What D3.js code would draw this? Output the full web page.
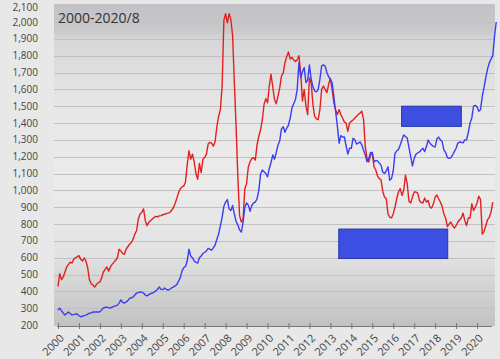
<!DOCTYPE html>
<html lang="en">
<head>
  <meta charset="UTF-8" />
  <title>2000-2020/8</title>
  <script src="https://d3js.org/d3.v7.min.js"></script>
  <style>
    html, body { margin: 0; padding: 0; background: #e8e8e8; }
    body { width: 500px; height: 359px; overflow: hidden; font-family: "Open Sans", sans-serif; }
    #chart { display: block; }
    .grid line { stroke: #c4bfc1; stroke-width: 1px; }
    .ylab text { fill: #444; font-size: 10px; }
    .xlab text { fill: #444; font-size: 11px; }
    .xaxis line, .xaxis path { stroke: #777; }
    .line { fill: none; stroke-width: 1.4px; stroke-linejoin: round; }
  </style>
</head>
<body>
  <svg id="chart" width="500" height="359"></svg>
  <script>
    // monthly readings, one row per year (red = platinum, blue = gold)
    const red = [
      430, 505, 470, 485, 515, 545, 560, 574, 568, 590, 600, 605,
      612, 590, 580, 598, 580, 540, 470, 445, 438, 425, 440, 452,
      455, 480, 515, 530, 545, 520, 545, 560, 572, 585, 598, 650,
      640, 625, 620, 650, 665, 680, 690, 710, 740, 760, 830, 860,
      870, 890, 820, 790, 810, 820, 830, 838, 845, 842, 848, 850,
      855, 858, 862, 865, 868, 880, 895, 920, 950, 985, 1010, 1020,
      1025, 1050, 1150, 1235, 1185, 1215, 1170, 1100, 1065, 1160, 1105, 1185,
      1195, 1215, 1275, 1285, 1280, 1262, 1290, 1380, 1440, 1480, 1620, 2010,
      2050, 1995, 2050, 2015, 1920, 1640, 1380, 1080, 850, 812, 830, 1010,
      1040, 1139, 1170, 1190, 1195, 1180, 1270, 1320, 1360, 1418, 1510, 1545,
      1520, 1620, 1690, 1614, 1540, 1515, 1560, 1610, 1680, 1697, 1760, 1795,
      1822, 1780, 1790, 1775, 1765, 1775, 1800, 1700, 1530, 1600, 1500, 1450,
      1670, 1640, 1510, 1440, 1425, 1420, 1480, 1600, 1620, 1600, 1580, 1630,
      1665, 1600, 1520, 1477, 1450, 1480, 1450, 1430, 1406, 1400, 1350, 1400,
      1410, 1418, 1430, 1440, 1450, 1460, 1470, 1420, 1260, 1190, 1168, 1210,
      1220, 1140, 1121, 1085, 1070, 1062, 995, 960, 950, 860, 840, 836,
      860, 900, 950, 990, 1010, 970, 1000, 1090, 1040, 935, 925, 960,
      991, 990, 984, 940, 928, 925, 955, 930, 940, 900, 895, 920,
      960, 972, 950, 930, 905, 860, 836, 785, 800, 812, 790, 776,
      790, 812, 825, 836, 865, 820, 790, 836, 836, 920, 880, 900,
      925, 965, 945, 740, 755, 790, 825, 840, 870, 930
    ];
    const blue = [
      289, 300, 285, 270, 259, 268, 277, 268, 260, 262, 265, 266,
      255, 249, 252, 256, 259, 265, 270, 272, 277, 277, 277, 277,
      278, 290, 301, 305, 306, 303, 301, 306, 311, 314, 318, 330,
      349, 335, 330, 337, 345, 358, 362, 366, 378, 390, 392, 396,
      395, 390, 378, 373, 380, 386, 390, 395, 402, 412, 426, 412,
      410, 420, 412, 408, 412, 420, 425, 432, 440, 460, 480, 520,
      540, 548, 580, 650, 610, 600, 580, 572, 568, 600, 610, 625,
      632, 640, 655, 650, 645, 660, 675, 710, 740, 790, 840, 905,
      930, 945, 890, 880, 910, 860, 815, 795, 765, 752, 810, 900,
      925, 912, 875, 910, 925, 930, 950, 1000, 1095, 1121, 1110, 1100,
      1080, 1130, 1165, 1210, 1185, 1225, 1270, 1295, 1365, 1378, 1345, 1370,
      1388, 1430, 1490, 1515, 1540, 1600, 1760, 1670, 1705, 1730, 1640, 1655,
      1745, 1660, 1615, 1590, 1585, 1600, 1660, 1740, 1745, 1738, 1700, 1675,
      1660, 1640, 1555, 1470, 1380, 1280, 1325, 1317, 1317, 1265, 1215, 1250,
      1250, 1310, 1300, 1275, 1280, 1288, 1270, 1240, 1210, 1170, 1190, 1225,
      1225, 1168, 1178, 1175, 1162, 1150, 1109, 1100, 1115, 1140, 1060, 1070,
      1115, 1220, 1235, 1242, 1270, 1300, 1329, 1320, 1311, 1255, 1200, 1145,
      1190, 1215, 1222, 1228, 1240, 1250, 1230, 1260, 1299, 1280, 1270, 1260,
      1258, 1305, 1317, 1300, 1290, 1240, 1225, 1195, 1190, 1195, 1210, 1230,
      1250, 1281, 1287, 1285, 1282, 1300, 1300, 1345, 1400, 1430, 1500, 1505,
      1496, 1470, 1480, 1560, 1610, 1670, 1720, 1757, 1780, 1800, 1915, 2000
    ];
    const years = d3.range(2000, 2021);
    const yTicks = d3.range(200, 2101, 100);
    const title = '2000-2020/8';
    const boxes = [
      { x0: 2016.4, x1: 2019.25, v0: 1500, v1: 1380 },
      { x0: 2013.4, x1: 2018.6, v0: 770, v1: 595 }
    ];

    const svg = d3.select('#chart');
    const x = d3.scaleLinear().domain([2000, 2021]).range([58, 498]);
    const y = d3.scaleLinear().domain([200, 2100]).range([325, 5.2]);
    const plotL = 54, plotR = 495, plotT = 4, plotB = 326;

    // plot background gradient
    const grad = svg.append('defs').append('linearGradient')
      .attr('id', 'bg').attr('x1', 0).attr('y1', 0).attr('x2', 0).attr('y2', 1);
    [[0, '#c2c2c6'], [0.08, '#c9c9cc'], [0.11, '#d6d6d8'], [0.3, '#e6e6e7'],
     [0.55, '#ececec'], [0.78, '#e2e2e2'], [0.9, '#d0d0d0'], [1, '#c2c2c2']]
      .forEach(([o, c]) => grad.append('stop').attr('offset', o).attr('stop-color', c));
    svg.append('rect').attr('x', plotL).attr('y', plotT)
      .attr('width', plotR - plotL).attr('height', plotB - plotT).attr('fill', 'url(#bg)');

    // gridlines + y labels
    const grid = svg.append('g').attr('class', 'grid');
    grid.selectAll('line').data(yTicks.slice(1)).join('line')
      .attr('x1', plotL).attr('x2', plotR)
      .attr('y1', d => Math.round(y(d)) + 0.5).attr('y2', d => Math.round(y(d)) + 0.5);
    svg.append('g').attr('class', 'ylab').selectAll('text').data(yTicks).join('text')
      .attr('x', 38).attr('y', d => Math.max(y(d), 7)).attr('dy', '0.35em')
      .attr('text-anchor', 'end').text(d3.format(','));

    // title
    svg.append('text').attr('x', 58).attr('y', 23).attr('fill', '#333')
      .style('font-size', '14px').text(title);

    // lines
    const line = d3.line().x((d, i) => x(2000 + i / 12)).y(d => y(d));
    svg.append('path').datum(red).attr('class', 'line').attr('stroke', '#e3201f').attr('d', line);
    svg.append('path').datum(blue).attr('class', 'line').attr('stroke', '#3b3cf5').attr('d', line);

    // x axis: line + ticks, labels drawn separately so they can be rotated
    const xa = svg.append('g').attr('class', 'xaxis').attr('transform', 'translate(0,326)')
      .call(d3.axisBottom(x).tickValues(years).tickFormat('').tickSizeOuter(0).tickSize(3));
    xa.select('.domain').attr('d', `M${plotL + 3},0.5H${plotR - 3}`);
    xa.selectAll('.tick line').attr('y1', -3).attr('y2', 3);

    svg.append('g').attr('class', 'xlab').selectAll('text').data(years).join('text')
      .attr('text-anchor', 'end')
      .attr('transform', d => `translate(${x(d) + 4},${336}) rotate(-45)`)
      .attr('dy', '0.35em')
      .text(d => d);

    // blue boxes
    svg.selectAll('.box').data(boxes).join('rect').attr('class', 'box')
      .attr('x', d => x(d.x0)).attr('width', d => x(d.x1) - x(d.x0))
      .attr('y', d => y(d.v0)).attr('height', d => y(d.v1) - y(d.v0))
      .attr('fill', '#3c4fe2').attr('stroke', '#2637a8').attr('stroke-width', 1);
  </script>
</body>
</html>
